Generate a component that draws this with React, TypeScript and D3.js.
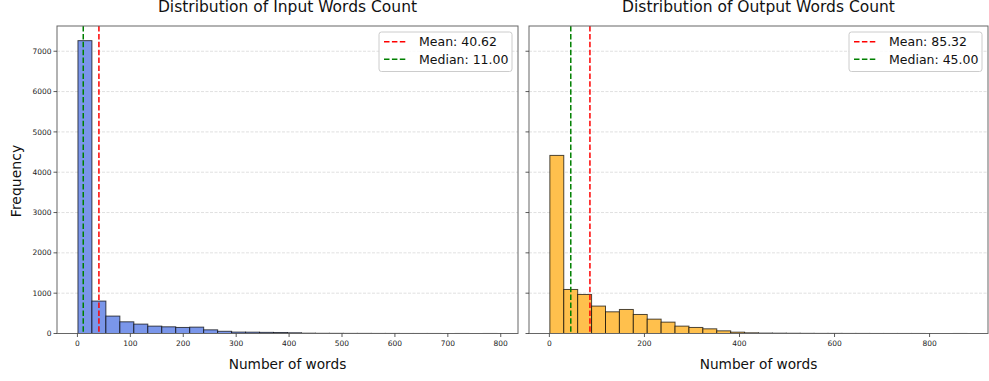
import React from "react";
import * as d3 from "d3";

const inputCounts = [7263, 804, 432, 290, 233, 183, 166, 150, 158, 91, 55, 35, 33, 28, 25, 18, 8, 5, 4, 3, 3, 2, 2, 1, 1, 1, 0, 1, 0, 1];
const outputCounts = [4417, 1092, 968, 680, 538, 596, 472, 356, 282, 183, 150, 116, 66, 33, 17, 10, 8, 6, 4, 3, 3, 2, 2, 1, 1, 1, 1, 0, 0, 1];
const inputRange = [1, 793];
const outputRange = [1, 879];
const inputStats = { mean: 40.62, median: 11.0 };
const outputStats = { mean: 85.32, median: 45.0 };
const yTicks = [0, 1000, 2000, 3000, 4000, 5000, 6000, 7000];
const inputXTicks = [0, 100, 200, 300, 400, 500, 600, 700, 800];
const outputXTicks = [0, 200, 400, 600, 800];
const titles = ["Distribution of Input Words Count", "Distribution of Output Words Count"];

const FONT = "DejaVu Sans, sans-serif";
const TOP = 26;
const BOTTOM = 333.5;

const yMax = d3.max([...inputCounts, ...outputCounts])! * 1.05;
const y = d3.scaleLinear().domain([0, yMax]).range([BOTTOM, TOP]);

type PanelProps = {
  left: number;
  right: number;
  counts: number[];
  range: number[];
  stats: { mean: number; median: number };
  xTicks: number[];
  title: string;
  fill: string;
  showYLabels: boolean;
};

function Panel({ left, right, counts, range, stats, xTicks, title, fill, showYLabels }: PanelProps) {
  const [mn, mx] = range;
  const R = mx - mn;
  const x = d3.scaleLinear().domain([mn - 0.05 * R, mx + 0.05 * R]).range([left, right]);
  const bw = R / counts.length;
  const cx = (left + right) / 2;
  const legendX = right - 139;
  return (
    <g>
      {yTicks.map((t) => (
        <line key={"g" + t} x1={left} x2={right} y1={y(t)} y2={y(t)} stroke="#d2d2d2" strokeWidth={0.7} strokeDasharray="3,1.5" />
      ))}
      {counts.map((c, i) => {
        const x0 = x(mn + i * bw);
        const x1 = x(mn + (i + 1) * bw);
        return (
          <rect key={"b" + i} x={x0} y={y(c)} width={x1 - x0} height={y(0) - y(c)} fill={fill} stroke="#000" strokeOpacity={0.7} strokeWidth={1} />
        );
      })}
      <line x1={x(stats.mean)} x2={x(stats.mean)} y1={TOP} y2={BOTTOM} stroke="red" strokeWidth={1.5} strokeDasharray="5.5,2.4" />
      <line x1={x(stats.median)} x2={x(stats.median)} y1={TOP} y2={BOTTOM} stroke="green" strokeWidth={1.5} strokeDasharray="5.5,2.4" />
      <rect x={left} y={TOP} width={right - left} height={BOTTOM - TOP} fill="none" stroke="#666" strokeWidth={1} />
      {yTicks.map((t) => (
        <g key={"y" + t}>
          <line x1={left - 3.5} x2={left} y1={y(t)} y2={y(t)} stroke="#333" strokeWidth={0.8} />
          {showYLabels && (
            <text x={left - 5.5} y={y(t)} dy="0.35em" textAnchor="end" fontSize={7.5} fontFamily={FONT} fill="#222">
              {t}
            </text>
          )}
        </g>
      ))}
      {xTicks.map((t) => (
        <g key={"x" + t}>
          <line x1={x(t)} x2={x(t)} y1={BOTTOM} y2={BOTTOM + 3.5} stroke="#333" strokeWidth={0.8} />
          <text x={x(t)} y={BOTTOM + 12} textAnchor="middle" fontSize={7.5} fontFamily={FONT} fill="#222">
            {t}
          </text>
        </g>
      ))}
      <text x={cx} y={11.5} textAnchor="middle" fontSize={15.5} fontFamily={FONT} fill="#111">
        {title}
      </text>
      <text x={cx} y={369} textAnchor="middle" fontSize={13.7} fontFamily={FONT} fill="#111">
        Number of words
      </text>
      <rect x={legendX} y={32} width={133} height={39.5} rx={2.5} fill="white" fillOpacity={0.8} stroke="#ccc" strokeWidth={1} />
      <line x1={legendX + 5} x2={legendX + 27.5} y1={41.8} y2={41.8} stroke="red" strokeWidth={1.5} strokeDasharray="5.5,2.4" />
      <line x1={legendX + 5} x2={legendX + 27.5} y1={59.3} y2={59.3} stroke="green" strokeWidth={1.5} strokeDasharray="5.5,2.4" />
      <text x={legendX + 40} y={41.8} dy="0.36em" fontSize={12.5} fontFamily={FONT} fill="#111">
        {`Mean: ${stats.mean.toFixed(2)}`}
      </text>
      <text x={legendX + 40} y={59.3} dy="0.36em" fontSize={12.5} fontFamily={FONT} fill="#111">
        {`Median: ${stats.median.toFixed(2)}`}
      </text>
    </g>
  );
}

export default function App() {
  return (
    <svg width={989} height={381} style={{ position: "absolute", left: 0, top: 0, background: "white" }}>
      <rect width={989} height={381} fill="white" />
      <Panel left={57} right={518} counts={inputCounts} range={inputRange} stats={inputStats} xTicks={inputXTicks} title={titles[0]} fill="#7a96ea" showYLabels={true} />
      <Panel left={529} right={988} counts={outputCounts} range={outputRange} stats={outputStats} xTicks={outputXTicks} title={titles[1]} fill="#ffc04d" showYLabels={false} />
      <text transform="translate(21,181) rotate(-90)" textAnchor="middle" fontSize={14} fontFamily={FONT} fill="#111">
        Frequency
      </text>
    </svg>
  );
}
